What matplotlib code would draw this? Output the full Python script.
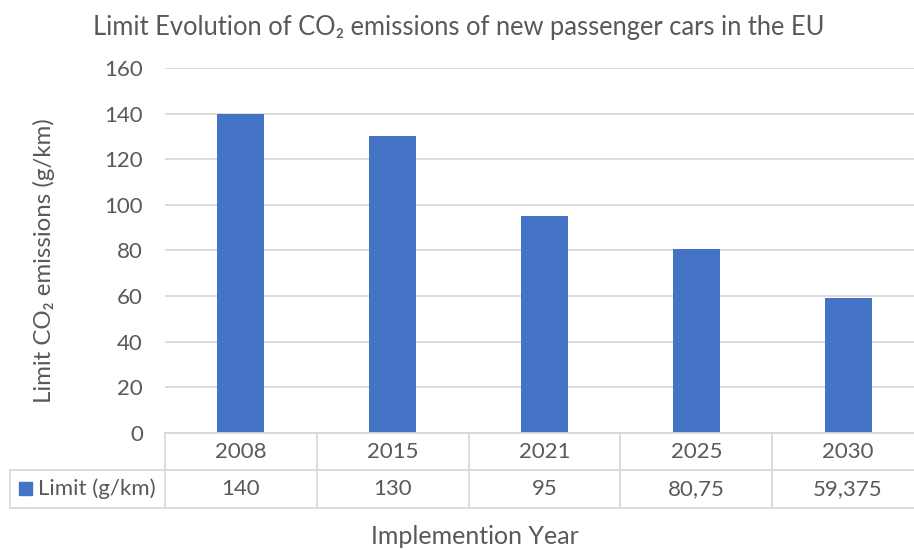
import matplotlib
matplotlib.use("Agg")
import matplotlib.pyplot as plt
from matplotlib.lines import Line2D
from matplotlib.patches import Rectangle
from matplotlib.transforms import blended_transform_factory

plt.rcParams['font.family'] = ['Lato', 'DejaVu Sans']

years = ['2008', '2015', '2021', '2025', '2030']
limits = [140, 130, 95, 80.75, 59.375]
series_name = 'Limit (g/km)'

bar_color = '#4472C4'
text_color = '#595959'
grid_color = '#D9D9D9'

W, H = 914, 550
fig = plt.figure(figsize=(W / 100, H / 100), dpi=100)


def fy(py):
    # pixel row from top -> figure fraction
    return 1 - py / H


def fx(px):
    return px / W


# plot area, right edge runs a little past the figure like the original export
left, right, top, bottom = 165, 924, 68, 433
ax = fig.add_axes([fx(left), fy(bottom), fx(right - left), (bottom - top) / H])

x = list(range(len(years)))
ax.bar(x, limits, width=0.31, color=bar_color, zorder=3)
ax.set_xlim(-0.5, len(years) - 0.5)
ax.set_ylim(0, 160)
ax.set_yticks(range(0, 161, 20))
ax.tick_params(axis='y', length=0, pad=16, labelsize=16, labelcolor=text_color)
ax.set_xticks([])
ax.grid(axis='y', color=grid_color, linewidth=1.3, zorder=0)
for s in ax.spines.values():
    s.set_visible(False)

# data table under the axis
row1_top, row1_bot, row2_bot = 433, 470, 508
head_left = 10
trans = blended_transform_factory(ax.transData, fig.transFigure)
ftrans = fig.transFigure
lw = 1.3
fs = 16

bounds = [xi - 0.5 for xi in x] + [x[-1] + 0.5]
for b in bounds:
    fig.add_artist(Line2D([b, b], [fy(row1_top), fy(row2_bot)], transform=trans,
                          color=grid_color, lw=lw, clip_on=False))
fig.add_artist(Line2D([bounds[0], bounds[-1]], [fy(row1_top)] * 2, transform=trans,
                      color=grid_color, lw=lw, clip_on=False))
for py in (row1_bot, row2_bot):
    fig.add_artist(Line2D([fx(head_left), 1], [fy(py)] * 2, transform=ftrans,
                          color=grid_color, lw=lw, clip_on=False))
fig.add_artist(Line2D([fx(head_left)] * 2, [fy(row1_bot), fy(row2_bot)], transform=ftrans,
                      color=grid_color, lw=lw, clip_on=False))

for xi, yr, v in zip(x, years, limits):
    fig.text(xi, fy((row1_top + row1_bot) / 2), yr, transform=trans, ha='center',
             va='center', fontsize=fs, color=text_color)
    label = f'{v:g}'.replace('.', ',')
    fig.text(xi, fy((row1_bot + row2_bot) / 2), label, transform=trans, ha='center',
             va='center', fontsize=fs, color=text_color)

# legend key inside the header cell
fig.add_artist(Rectangle((fx(19), fy(495)), fx(13), 13 / H, transform=ftrans,
                         color=bar_color))
fig.text(fx(38), fy((row1_bot + row2_bot) / 2), series_name, ha='left', va='center',
         fontsize=fs, color=text_color)

fig.text(fx(475), fy(536), 'Implemention Year', ha='center', va='center',
         fontsize=18, color=text_color)
fig.text(fx(44), fy(261), 'Limit CO₂ emissions (g/km)', ha='center', va='center',
         rotation=90, fontsize=17.3, color=text_color)
fig.text(fx(459), fy(27), 'Limit Evolution of CO₂ emissions of new passenger cars in the EU',
         ha='center', va='center', fontsize=18.4, color=text_color)

fig.savefig('out.png', dpi=100)
